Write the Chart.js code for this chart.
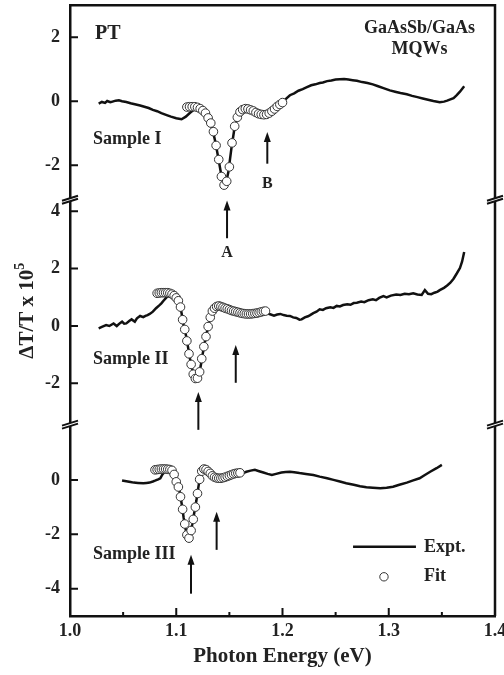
<!DOCTYPE html>
<html>
<head>
<meta charset="utf-8">
<script src="https://cdn.jsdelivr.net/npm/chart.js@4.4.1/dist/chart.umd.min.js"></script>
<style>
  body { margin: 0; background: #fff; }
  canvas { display: block; }
</style>
</head>
<body>
<canvas id="ptChart" width="504" height="675"></canvas>
<script>
// Sample I
const exptEnergyI = [1.027,1.030,1.033,1.035,1.038,1.040,1.043,1.046,1.049,1.053,1.057,1.061,1.066,1.070,1.074,1.078,1.082,1.086,1.091,1.095,1.100,1.105,1.109,1.113,1.117,1.121,1.125,1.128,1.131,1.134,1.137,1.140,1.143,1.145,1.147,1.149,1.152,1.155,1.158,1.161,1.165,1.170,1.175,1.180,1.185,1.190,1.195,1.200,1.204,1.207,1.211,1.215,1.219,1.223,1.227,1.231,1.235,1.238,1.242,1.246,1.250,1.254,1.258,1.262,1.266,1.270,1.275,1.280,1.285,1.290,1.295,1.301,1.306,1.311,1.317,1.322,1.327,1.332,1.337,1.342,1.348,1.352,1.355,1.358,1.361,1.364,1.367,1.371];
const exptI = [-0.07,-0.02,-0.05,0.01,-0.03,-0.01,0.02,0.03,0.00,-0.02,-0.06,-0.09,-0.13,-0.17,-0.21,-0.27,-0.31,-0.37,-0.43,-0.48,-0.53,-0.56,-0.48,-0.36,-0.25,-0.18,-0.20,-0.40,-0.60,-0.85,-1.30,-1.85,-2.42,-2.60,-2.52,-2.22,-1.45,-0.80,-0.47,-0.30,-0.22,-0.27,-0.35,-0.42,-0.41,-0.31,-0.16,-0.03,0.10,0.19,0.25,0.33,0.38,0.44,0.50,0.53,0.57,0.59,0.63,0.65,0.68,0.69,0.70,0.68,0.66,0.64,0.60,0.57,0.53,0.47,0.41,0.34,0.30,0.26,0.22,0.17,0.13,0.09,0.05,0.01,-0.03,-0.01,0.02,0.06,0.10,0.19,0.30,0.47];
const fitEnergyI = [1.110,1.1125,1.115,1.1175,1.120,1.1225,1.125,1.1275,1.130,1.1325,1.135,1.1375,1.140,1.1425,1.145,1.1475,1.150,1.1525,1.155,1.1575,1.160,1.1625,1.165,1.1675,1.170,1.1725,1.175,1.1775,1.180,1.1825,1.185,1.1875,1.190,1.1925,1.195,1.1975,1.200];
const fitI = [-0.18,-0.17,-0.17,-0.17,-0.19,-0.23,-0.29,-0.37,-0.52,-0.68,-0.95,-1.38,-1.82,-2.35,-2.62,-2.50,-2.05,-1.30,-0.78,-0.50,-0.33,-0.26,-0.23,-0.24,-0.27,-0.30,-0.35,-0.39,-0.41,-0.42,-0.41,-0.37,-0.31,-0.24,-0.16,-0.10,-0.04];

// Sample II
const exptEnergyII = [1.027,1.030,1.034,1.037,1.041,1.044,1.047,1.049,1.051,1.053,1.056,1.058,1.061,1.063,1.066,1.069,1.071,1.073,1.075,1.078,1.081,1.084,1.086,1.088,1.090,1.093,1.095,1.097,1.099,1.101,1.103,1.105,1.107,1.109,1.111,1.113,1.115,1.117,1.119,1.121,1.123,1.125,1.127,1.129,1.131,1.133,1.136,1.140,1.145,1.150,1.155,1.160,1.165,1.170,1.175,1.180,1.185,1.189,1.192,1.195,1.198,1.201,1.204,1.207,1.210,1.213,1.216,1.218,1.221,1.224,1.226,1.229,1.232,1.235,1.238,1.241,1.245,1.248,1.251,1.254,1.257,1.261,1.264,1.267,1.270,1.274,1.277,1.281,1.285,1.288,1.291,1.295,1.298,1.302,1.307,1.311,1.315,1.319,1.323,1.327,1.331,1.334,1.337,1.340,1.343,1.346,1.348,1.352,1.355,1.358,1.361,1.364,1.367,1.369,1.371];
const exptII = [-0.08,-0.03,0.03,0.00,0.09,0.00,0.10,0.15,0.08,0.09,0.18,0.23,0.15,0.27,0.35,0.31,0.35,0.38,0.42,0.50,0.62,0.72,0.79,0.88,0.96,1.08,1.14,1.17,1.16,0.98,0.80,0.45,0.00,-0.30,-0.72,-1.15,-1.50,-1.76,-1.84,-1.72,-1.40,-0.95,-0.55,-0.20,0.15,0.42,0.62,0.70,0.63,0.57,0.50,0.45,0.42,0.41,0.44,0.48,0.45,0.40,0.36,0.40,0.42,0.38,0.36,0.35,0.30,0.28,0.22,0.23,0.30,0.34,0.38,0.45,0.50,0.58,0.56,0.62,0.65,0.63,0.70,0.68,0.73,0.76,0.74,0.80,0.81,0.85,0.83,0.90,0.93,0.90,0.98,1.04,1.00,1.06,1.10,1.08,1.12,1.11,1.14,1.10,1.08,1.25,1.12,1.11,1.16,1.20,1.25,1.33,1.41,1.51,1.65,1.83,2.02,2.24,2.58];
const fitEnergyII = [1.082,1.084,1.086,1.088,1.090,1.092,1.094,1.096,1.098,1.100,1.102,1.104,1.106,1.108,1.110,1.112,1.114,1.116,1.118,1.120,1.122,1.124,1.126,1.128,1.130,1.132,1.134,1.136,1.138,1.140,1.142,1.144,1.146,1.148,1.150,1.152,1.154,1.156,1.158,1.160,1.162,1.164,1.166,1.168,1.170,1.172,1.174,1.176,1.178,1.180,1.182,1.184];
const fitII = [1.14,1.15,1.16,1.16,1.16,1.16,1.14,1.11,1.06,0.98,0.88,0.66,0.22,-0.12,-0.52,-0.97,-1.34,-1.68,-1.83,-1.82,-1.60,-1.14,-0.72,-0.37,-0.02,0.30,0.52,0.62,0.68,0.70,0.68,0.65,0.62,0.60,0.57,0.54,0.52,0.50,0.48,0.46,0.44,0.43,0.42,0.42,0.42,0.43,0.44,0.45,0.47,0.49,0.51,0.52];

// Sample III
const exptEnergyIII = [1.049,1.053,1.057,1.060,1.064,1.069,1.072,1.075,1.078,1.080,1.083,1.085,1.087,1.089,1.092,1.095,1.097,1.099,1.101,1.103,1.105,1.107,1.109,1.111,1.113,1.115,1.117,1.119,1.121,1.123,1.125,1.128,1.131,1.135,1.140,1.145,1.150,1.155,1.160,1.163,1.166,1.170,1.174,1.178,1.182,1.186,1.190,1.194,1.199,1.203,1.207,1.211,1.216,1.222,1.229,1.235,1.242,1.248,1.254,1.260,1.267,1.273,1.279,1.285,1.292,1.298,1.304,1.310,1.317,1.323,1.329,1.334,1.339,1.345,1.350];
const exptIII = [-0.02,-0.05,-0.08,-0.10,-0.11,-0.12,-0.11,-0.10,-0.06,-0.03,0.02,0.06,0.20,0.30,0.37,0.38,0.30,0.10,-0.15,-0.40,-0.85,-1.40,-1.85,-2.08,-2.00,-1.65,-1.20,-0.75,-0.22,0.20,0.38,0.35,0.25,0.12,0.06,0.09,0.15,0.22,0.26,0.25,0.30,0.34,0.37,0.32,0.27,0.22,0.18,0.22,0.27,0.29,0.30,0.28,0.25,0.22,0.18,0.12,0.06,0.00,-0.06,-0.12,-0.18,-0.23,-0.27,-0.29,-0.31,-0.29,-0.25,-0.18,-0.10,-0.02,0.06,0.18,0.30,0.43,0.55];
const fitEnergyIII = [1.080,1.082,1.084,1.086,1.088,1.090,1.092,1.094,1.096,1.098,1.100,1.102,1.104,1.106,1.108,1.110,1.112,1.114,1.116,1.118,1.120,1.122,1.124,1.126,1.128,1.130,1.132,1.134,1.136,1.138,1.140,1.142,1.144,1.146,1.148,1.150,1.152,1.154,1.156,1.158,1.160];
const fitIII = [0.37,0.38,0.39,0.40,0.40,0.40,0.39,0.38,0.35,0.20,-0.07,-0.26,-0.62,-1.08,-1.62,-2.02,-2.14,-1.86,-1.45,-1.00,-0.50,0.02,0.32,0.40,0.38,0.31,0.24,0.15,0.10,0.07,0.06,0.06,0.08,0.10,0.13,0.16,0.19,0.22,0.24,0.25,0.26];

// axes
const xMajor = [1.0, 1.1, 1.2, 1.3, 1.4];
const xMinor = [1.05, 1.15, 1.25, 1.35];
const ticksI = [-2, 0, 2];
const ticksII = [-2, 0, 2, 4];
const ticksIII = [-4, -2, 0];

// arrows marking transitions
const arrowAxis = ['yTop', 'yTop', 'yMid', 'yMid', 'yBot', 'yBot'];
const arrowEnergy = [1.1478, 1.1857, 1.1208, 1.156, 1.1139, 1.138];
const arrowTip = [-3.1, -0.96, -2.3, -0.66, -2.75, -1.17];
const arrowTail = [-4.28, -1.95, -3.62, -1.98, -4.18, -2.57];

// text notes: text, axis, energy, value, size, align
const notes = [
  ['PT', 'yTop', 1.0235, 2.12, 20, 'left'],
  ['GaAsSb/GaAs', 'yTop', 1.329, 2.28, 18, 'center'],
  ['MQWs', 'yTop', 1.329, 1.62, 18, 'center'],
  ['Sample I', 'yTop', 1.0216, -1.2, 18, 'left'],
  ['A', 'yTop', 1.1478, -4.75, 16, 'center'],
  ['B', 'yTop', 1.1857, -2.59, 16, 'center'],
  ['Sample II', 'yMid', 1.0216, -1.18, 18, 'left'],
  ['Sample III', 'yBot', 1.0216, -2.72, 18, 'left'],
  ['Expt.', 'yBot', 1.3332, -2.46, 18, 'left'],
  ['Fit', 'yBot', 1.3332, -3.56, 18, 'left']
];

const serif = '"Liberation Serif", "Times New Roman", serif';
const ink = '#111';

function pairs(xs, ys) {
  return xs.map((x, i) => ({ x: x, y: ys[i] }));
}

function exptSet(xs, ys, axis) {
  return {
    label: 'Expt.', data: pairs(xs, ys), yAxisID: axis, order: 1,
    showLine: true, borderColor: ink, borderWidth: 2.5, pointRadius: 0, tension: 0
  };
}

function fitSet(xs, ys, axis) {
  return {
    label: 'Fit', data: pairs(xs, ys), yAxisID: axis, order: 0,
    showLine: false, pointRadius: 4.3, pointBorderWidth: 1,
    pointBorderColor: '#333', pointBackgroundColor: '#fff'
  };
}

function yScale(weight, stackWeight, min, max, list) {
  return {
    type: 'linear', position: 'left', stack: 'panels',
    weight: weight, stackWeight: stackWeight, min: min, max: max,
    grid: { display: false, drawTicks: false },
    border: { display: true, color: ink, width: 2.5 },
    ticks: { padding: 10, color: '#222', font: { family: serif, size: 18, weight: 'bold' } },
    afterBuildTicks: s => { s.ticks = list.map(v => ({ value: v })); },
    afterFit: s => { s.width = 70; s.paddingTop = 0; s.paddingBottom = 0; }
  };
}

function breakMark(ctx, x, y) {
  ctx.fillStyle = '#fff';
  ctx.beginPath();
  ctx.moveTo(x - 8, y + 1.5);
  ctx.lineTo(x + 8, y - 3.5);
  ctx.lineTo(x + 8, y - 0.5);
  ctx.lineTo(x - 8, y + 4.5);
  ctx.closePath();
  ctx.fill();
  ctx.beginPath();
  ctx.moveTo(x - 8, y + 1.5);
  ctx.lineTo(x + 8, y - 3.5);
  ctx.moveTo(x - 8, y + 4.5);
  ctx.lineTo(x + 8, y - 0.5);
  ctx.stroke();
}

function arrow(ctx, x, yTail, yTip) {
  ctx.beginPath();
  ctx.moveTo(x, yTail);
  ctx.lineTo(x, yTip + 8);
  ctx.stroke();
  ctx.beginPath();
  ctx.moveTo(x, yTip);
  ctx.lineTo(x - 3.5, yTip + 10);
  ctx.lineTo(x + 3.5, yTip + 10);
  ctx.closePath();
  ctx.fill();
}

const decor = {
  id: 'decor',
  afterDraw(chart) {
    const { ctx, chartArea: area, scales } = chart;
    ctx.save();
    ctx.strokeStyle = ink;
    ctx.lineWidth = 2.5;
    ctx.beginPath();
    ctx.moveTo(area.left, area.top);
    ctx.lineTo(area.right, area.top);
    ctx.lineTo(area.right, area.bottom);
    ctx.stroke();

    // inward ticks
    ctx.lineWidth = 2;
    ctx.beginPath();
    xMajor.forEach(v => {
      const px = scales.x.getPixelForValue(v);
      ctx.moveTo(px, area.bottom);
      ctx.lineTo(px, area.bottom - 8);
    });
    xMinor.forEach(v => {
      const px = scales.x.getPixelForValue(v);
      ctx.moveTo(px, area.bottom);
      ctx.lineTo(px, area.bottom - 4);
    });
    [['yTop', ticksI], ['yMid', ticksII], ['yBot', ticksIII]].forEach(([id, list]) => {
      list.forEach(v => {
        const py = scales[id].getPixelForValue(v);
        ctx.moveTo(area.left, py);
        ctx.lineTo(area.left + 8, py);
      });
    });
    ctx.stroke();

    [scales.yMid.top, scales.yBot.top].forEach(py => {
      breakMark(ctx, area.left, py);
      breakMark(ctx, area.right, py);
    });

    ctx.fillStyle = ink;
    ctx.lineWidth = 2;
    arrowEnergy.forEach((e, i) => {
      const s = scales[arrowAxis[i]];
      arrow(ctx, scales.x.getPixelForValue(e), s.getPixelForValue(arrowTail[i]), s.getPixelForValue(arrowTip[i]));
    });

    ctx.fillStyle = '#222';
    ctx.textBaseline = 'middle';
    notes.forEach(([text, axis, e, v, size, align]) => {
      ctx.font = `bold ${size}px ${serif}`;
      ctx.textAlign = align;
      ctx.fillText(text, scales.x.getPixelForValue(e), scales[axis].getPixelForValue(v));
    });

    // legend marks
    const yb = scales.yBot;
    ctx.lineWidth = 2.5;
    ctx.beginPath();
    ctx.moveTo(scales.x.getPixelForValue(1.2664), yb.getPixelForValue(-2.46));
    ctx.lineTo(scales.x.getPixelForValue(1.3256), yb.getPixelForValue(-2.46));
    ctx.stroke();
    ctx.lineWidth = 1;
    ctx.strokeStyle = '#333';
    ctx.beginPath();
    ctx.arc(scales.x.getPixelForValue(1.2955), yb.getPixelForValue(-3.56), 4.2, 0, Math.PI * 2);
    ctx.stroke();

    // axis titles
    ctx.fillStyle = '#222';
    ctx.textAlign = 'center';
    ctx.font = `bold 21px ${serif}`;
    ctx.fillText('Photon Energy (eV)', (area.left + area.right) / 2, 657);

    ctx.translate(28, (area.top + area.bottom) / 2);
    ctx.rotate(-Math.PI / 2);
    const main = 'ΔT/T x 10';
    const mainW = ctx.measureText(main).width;
    ctx.font = `bold 14px ${serif}`;
    const supW = ctx.measureText('5').width;
    const x0 = -(mainW + supW) / 2;
    ctx.textAlign = 'left';
    ctx.fillText('5', x0 + mainW, -8);
    ctx.font = `bold 21px ${serif}`;
    ctx.fillText(main, x0, 0);
    ctx.restore();
  }
};

new Chart(document.getElementById('ptChart'), {
  type: 'scatter',
  data: {
    datasets: [
      fitSet(fitEnergyI, fitI, 'yTop'),
      fitSet(fitEnergyII, fitII, 'yMid'),
      fitSet(fitEnergyIII, fitIII, 'yBot'),
      exptSet(exptEnergyI, exptI, 'yTop'),
      exptSet(exptEnergyII, exptII, 'yMid'),
      exptSet(exptEnergyIII, exptIII, 'yBot')
    ]
  },
  options: {
    responsive: false,
    animation: false,
    devicePixelRatio: 1,
    layout: { padding: { top: 5, right: 9, left: 0, bottom: 0 } },
    plugins: { legend: { display: false }, tooltip: { enabled: false } },
    scales: {
      x: {
        type: 'linear', position: 'bottom', min: 1.0, max: 1.4,
        grid: { display: false, drawTicks: false },
        border: { display: true, color: ink, width: 2.5 },
        ticks: {
          padding: 5, color: '#222', maxRotation: 0,
          font: { family: serif, size: 18, weight: 'bold' },
          callback: v => v.toFixed(1)
        },
        afterBuildTicks: s => { s.ticks = xMajor.map(v => ({ value: v })); },
        afterFit: s => { s.height = 59; s.paddingLeft = 0; s.paddingRight = 0; }
      },
      yTop: yScale(3, 194, -3.06, 3.0, ticksI),
      yMid: yScale(2, 225, -3.42, 4.42, ticksII),
      yBot: yScale(1, 192, -5.0, 2.05, ticksIII)
    }
  },
  plugins: [decor]
});
</script>
</body>
</html>
